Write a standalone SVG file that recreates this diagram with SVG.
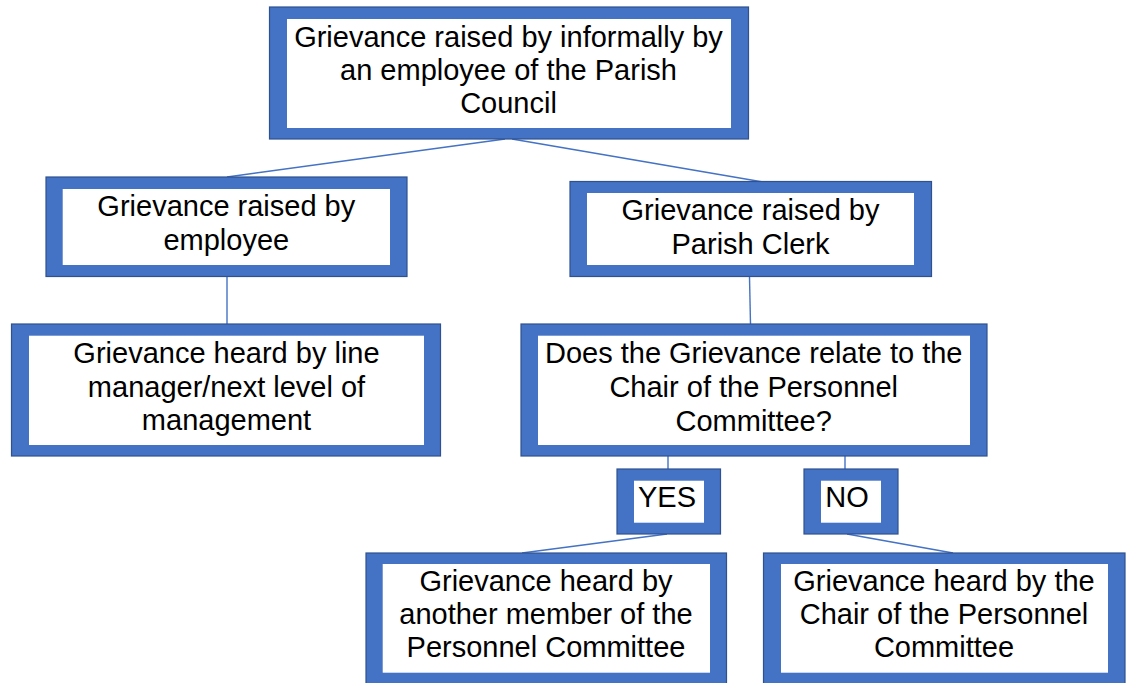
<svg xmlns="http://www.w3.org/2000/svg" width="1128" height="683" viewBox="0 0 1128 683">
<style>
.outer{fill:#4472C4;stroke:#2F528F;stroke-width:1.2}
.inner{fill:#FFFFFF}
.t{font-family:"Liberation Sans",Arial,sans-serif;font-size:29px;fill:#000;text-anchor:middle}
.c{stroke:#4472C4;stroke-width:1.4;fill:none}
</style>
<rect width="1128" height="683" fill="#FFFFFF"/>
<g id="connectors">
<line class="c" x1="505" y1="139" x2="227" y2="177"/>
<line class="c" x1="512" y1="139" x2="763" y2="182"/>
<line class="c" x1="227" y1="277" x2="227" y2="324"/>
<line class="c" x1="749.5" y1="277" x2="750.5" y2="324"/>
<line class="c" x1="668" y1="456" x2="668" y2="469"/>
<line class="c" x1="845" y1="456" x2="845" y2="469"/>
<line class="c" x1="667" y1="534" x2="522" y2="553"/>
<line class="c" x1="847" y1="534" x2="953" y2="553"/>
</g>
<g id="n-top">
<rect class="outer" x="269.5" y="7" width="479" height="132"/>
<rect class="inner" x="287" y="19" width="444" height="109"/>
<text class="t" x="508.5" y="47">Grievance raised by informally by</text>
<text class="t" x="508.5" y="80">an employee of the Parish</text>
<text class="t" x="508.5" y="113">Council</text>
</g>
<g id="n-employee">
<rect class="outer" x="46" y="177" width="361" height="99.5"/>
<rect class="inner" x="62.7" y="189" width="327.3" height="76"/>
<text class="t" x="226.3" y="216">Grievance raised by</text>
<text class="t" x="226.3" y="250">employee</text>
</g>
<g id="n-clerk">
<rect class="outer" x="570" y="181.5" width="361.5" height="95"/>
<rect class="inner" x="587" y="193" width="327" height="72"/>
<text class="t" x="750.5" y="220">Grievance raised by</text>
<text class="t" x="750.5" y="253.5">Parish Clerk</text>
</g>
<g id="n-linemanager">
<rect class="outer" x="11.5" y="324" width="429" height="132"/>
<rect class="inner" x="29" y="335.7" width="395" height="109.3"/>
<text class="t" x="226.5" y="362.7">Grievance heard by line</text>
<text class="t" x="226.5" y="396.5">manager/next level of</text>
<text class="t" x="226.5" y="430">management</text>
</g>
<g id="n-question">
<rect class="outer" x="521" y="324" width="466" height="132"/>
<rect class="inner" x="538" y="335.7" width="432" height="109.3"/>
<text class="t" x="753.7" y="362.7">Does the Grievance relate to the</text>
<text class="t" x="753.7" y="396.5">Chair of the Personnel</text>
<text class="t" x="753.7" y="430.5">Committee?</text>
</g>
<g id="n-yes">
<rect class="outer" x="617" y="469" width="103.5" height="65"/>
<rect class="inner" x="634" y="480.7" width="70" height="42"/>
<text class="t" x="667" y="507.3">YES</text>
</g>
<g id="n-no">
<rect class="outer" x="804" y="469" width="94" height="65"/>
<rect class="inner" x="821" y="480.7" width="60" height="42"/>
<text class="t" x="847" y="507.3">NO</text>
</g>
<g id="n-another">
<rect class="outer" x="366" y="553" width="360.5" height="132"/>
<rect class="inner" x="382.7" y="564" width="327.3" height="108.7"/>
<text class="t" x="546" y="590.7">Grievance heard by</text>
<text class="t" x="546" y="624">another member of the</text>
<text class="t" x="546" y="657.3">Personnel Committee</text>
</g>
<g id="n-chair">
<rect class="outer" x="763.5" y="553" width="361.5" height="132"/>
<rect class="inner" x="781" y="564" width="327" height="108.7"/>
<text class="t" x="944" y="590.7">Grievance heard by the</text>
<text class="t" x="944" y="624">Chair of the Personnel</text>
<text class="t" x="944" y="657.3">Committee</text>
</g>
</svg>
